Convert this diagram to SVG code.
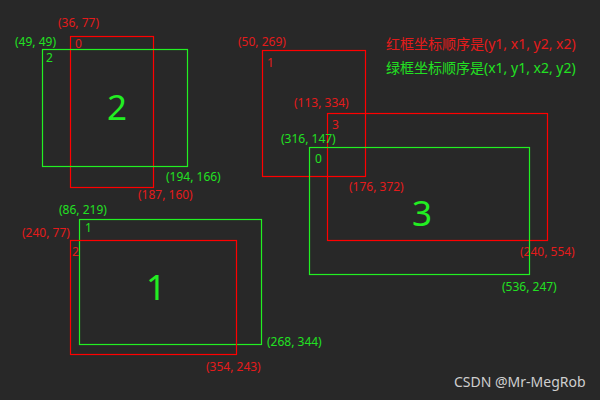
<svg xmlns="http://www.w3.org/2000/svg" width="600" height="400" viewBox="0 0 600 400">
<style>
.r{fill:none;stroke:#ff0000;stroke-width:1.2}
.g{fill:none;stroke:#22f022;stroke-width:1.2}
text{font-family:"Noto Sans","Open Sans","Noto Sans CJK SC",sans-serif}
.tr{fill:#e41b1b;font-size:12px}
.tg{fill:#22e022;font-size:12px}
.big{fill:#22ee22;font-size:35px;text-anchor:middle}
.cr{fill:#e41b1b;font-size:14px;font-family:"Noto Sans","Noto Sans CJK SC",sans-serif}
.cg{fill:#22e022;font-size:14px;font-family:"Noto Sans","Noto Sans CJK SC",sans-serif}
</style>
<rect width="600" height="400" fill="#282828"/>
<g id="box-red-0">
<rect class="r" x="70.5" y="36.5" width="83" height="151"/>
<text class="tr" x="58" y="27">(36, 77)</text>
<text class="tr" x="75" y="48">0</text>
<text class="tr" x="138" y="199">(187, 160)</text>
</g>
<g id="box-green-2">
<rect class="g" x="42.5" y="49.5" width="145" height="117"/>
<text class="tg" x="15" y="46">(49, 49)</text>
<text class="tg" x="46" y="62">2</text>
<text class="big" x="117" y="120">2</text>
<text class="tg" x="166" y="181">(194, 166)</text>
</g>
<g id="box-red-1">
<rect class="r" x="262.5" y="50.5" width="103" height="126"/>
<text class="tr" x="238" y="46">(50, 269)</text>
<text class="tr" x="267" y="67">1</text>
<text class="tr" x="294" y="107">(113, 334)</text>
</g>
<g id="box-red-3">
<rect class="r" x="327.5" y="113.5" width="220" height="127"/>
<text class="tr" x="332" y="129">3</text>
<text class="tr" x="349" y="191">(176, 372)</text>
<text class="tr" x="520" y="256">(240, 554)</text>
</g>
<g id="box-green-0">
<rect class="g" x="309.5" y="147.5" width="220" height="127"/>
<text class="tg" x="281" y="143">(316, 147)</text>
<text class="tg" x="315" y="163">0</text>
<text class="big" x="422" y="226">3</text>
<text class="tg" x="502" y="291">(536, 247)</text>
</g>
<g id="box-green-1">
<rect class="g" x="79.5" y="219.5" width="182" height="125"/>
<text class="tg" x="59" y="214">(86, 219)</text>
<text class="tg" x="85" y="232">1</text>
<text class="big" x="156" y="300">1</text>
<text class="tg" x="267" y="346">(268, 344)</text>
</g>
<g id="box-red-2">
<rect class="r" x="70.5" y="240.5" width="166" height="114"/>
<text class="tr" x="22" y="237">(240, 77)</text>
<text class="tr" x="72" y="256">2</text>
<text class="tr" x="206" y="371">(354, 243)</text>
</g>
<g id="legend">
<text class="cr" x="386" y="49">红框坐标顺序是(y1, x1, y2, x2)</text>
<text class="cg" x="386" y="73">绿框坐标顺序是(x1, y1, x2, y2)</text>
</g>
<text x="454" y="387" fill="#cfcfcf" font-size="14" style="font-family:'Noto Sans',sans-serif">CSDN @Mr-MegRob</text>
</svg>
